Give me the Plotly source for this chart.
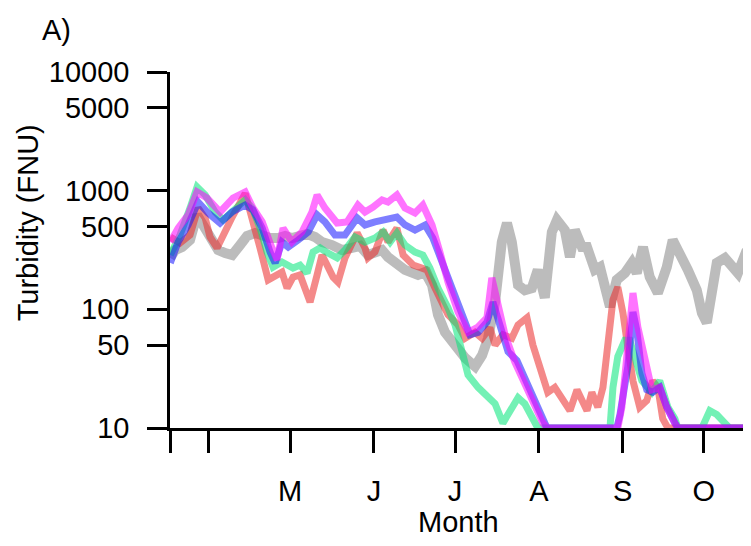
import plotly.graph_objects as go

# Day of year (x) and turbidity in FNU (y) for each series
grey_day = [76.7, 78.5, 81.1, 84.0, 86.6, 88.8, 91.4, 94.4, 97.0, 99.6, 102.5, 105.1, 108.1, 110.7, 113.6,
            116.6, 119.2, 121.7, 124.7, 127.3, 130.2, 132.8, 136.5, 140.2, 143.9, 146.9, 149.8, 155.0,
            157.2, 159.8, 163.5, 168.3, 170.9, 173.5, 175.7, 178.3, 182.0, 185.7, 189.4, 192.0, 194.2,
            196.8, 199.3, 201.2, 203.0, 205.3, 207.8, 210.4, 212.6, 215.2, 217.8, 219.7, 222.6, 224.5,
            226.3, 228.9, 230.8, 233.7, 235.6, 237.4, 239.3, 241.8, 244.8, 247.4, 249.2, 251.5, 254.0,
            257.0, 260.3, 262.5, 265.1, 268.1, 271.4, 273.3, 275.1, 277.0, 278.8, 281.8, 284.3, 286.6, 289.9]
grey_val = [271, 316, 335, 384, 624, 514, 384, 316, 298, 287, 348, 415, 440, 415, 399,
            399, 415, 399, 415, 432, 407, 369, 348, 316, 329, 342, 287, 316,
            276, 246, 215, 195, 206, 160, 90, 64, 50, 39, 33, 41, 57,
            115, 369, 534, 369, 160, 145, 151, 215, 125, 448, 566, 466, 276,
            466, 335, 335, 215, 227, 154, 105, 177, 202, 246, 202, 335, 187,
            137, 227, 384, 298, 215, 145, 93, 77, 154, 246, 271, 227, 202, 316]

red_day = [76.7, 80.3, 84.0, 87.0, 89.6, 91.4, 94.0, 95.9, 99.6, 104.4, 107.3, 109.9, 112.9, 115.5, 118.0,
           119.9, 122.1, 124.7, 126.5, 128.4, 131.0, 132.8, 134.7, 136.9, 138.7, 141.3, 145.8, 148.7,
           149.8, 152.4, 155.4, 157.2, 160.5, 162.8, 166.5, 169.8, 171.6, 174.6, 179.4, 183.1, 185.7,
           189.4, 192.0, 194.9, 196.8, 199.7, 203.0, 205.3, 208.6, 210.8, 214.1, 216.3, 218.9, 220.0,
           222.6, 224.5, 227.1, 228.9, 230.8, 232.6, 234.8, 236.7, 238.5, 240.4, 242.2, 244.1, 245.9,
           247.8, 250.3, 252.9, 255.1, 257.0, 258.8, 260.7, 289.9]
red_val = [407, 362, 423, 714, 589, 407, 329, 407, 600, 950, 566, 329, 177, 195, 206,
           151, 187, 195, 151, 115, 195, 287, 236, 187, 170, 271, 440, 329,
           271, 304, 466, 369, 484, 287, 236, 227, 215, 151, 90, 74, 57,
           64, 57, 70, 50, 61, 57, 74, 85, 50, 28, 20, 22, 20,
           17, 14, 21, 17, 14, 20, 15, 22, 55, 120, 154, 93, 48,
           25, 15, 17, 25, 22, 12, 10, 10]

green_day = [76.7, 80.3, 84.0, 86.6, 89.6, 93.3, 96.2, 99.6, 104.4, 107.0, 109.9, 112.5, 114.7, 118.0,
             120.3, 122.1, 124.7, 127.3, 129.5, 132.1, 135.0, 138.4, 141.3, 145.0, 148.7, 152.4, 155.4,
             158.0, 160.5, 163.5, 167.2, 170.1, 172.7, 175.7, 179.4, 182.0, 184.6, 186.8, 190.5, 193.8,
             196.8, 199.7, 203.0, 205.3, 207.8, 210.4, 212.6, 239.3, 240.4, 242.2, 244.8, 246.6, 251.1,
             254.8, 257.7, 260.7, 263.3, 264.4, 273.3, 276.2, 278.8, 281.8, 283.5, 289.9]
green_val = [287, 423, 714, 1074, 919, 661, 566, 661, 834, 714, 484, 304, 227, 251,
             236, 223, 236, 202, 304, 329, 298, 271, 316, 407, 369, 399, 448,
             369, 440, 348, 304, 287, 223, 151, 103, 74, 44, 28, 22, 19,
             16, 11, 15, 18, 16, 12, 10, 10, 22, 40, 55, 55, 25,
             20, 25, 15, 12, 10, 10, 14, 13, 11, 10, 10]

blue_day = [76.7, 79.6, 83.3, 87.0, 90.7, 95.1, 99.6, 104.4, 107.3, 110.7, 113.6, 115.5, 118.0, 120.3,
            124.0, 127.7, 131.0, 133.9, 137.6, 141.3, 145.8, 148.7, 152.4, 156.1, 160.5, 163.5, 167.2,
            170.9, 173.8, 177.2, 180.9, 184.6, 187.5, 190.5, 193.8, 196.0, 198.6, 201.6, 204.9, 207.8,
            210.8, 214.1, 216.0, 241.8, 243.0, 245.9, 247.8, 249.2, 251.1, 252.9, 255.1, 257.7, 260.3,
            263.3, 264.4, 289.9]
blue_val = [246, 369, 514, 802, 648, 534, 661, 757, 687, 484, 304, 246, 369, 335,
            384, 448, 624, 545, 423, 423, 589, 514, 545, 566, 600, 514, 466,
            514, 399, 251, 151, 90, 61, 64, 78, 115, 70, 44, 37, 26,
            18, 13, 10, 10, 13, 33, 95, 67, 29, 21, 20, 22, 15,
            11, 10, 10]

magenta_day = [76.7, 79.6, 83.3, 86.6, 90.3, 95.1, 99.9, 104.4, 107.3, 110.7, 114.3, 116.2, 118.4, 121.7,
               125.4, 129.1, 131.0, 133.9, 138.4, 142.1, 146.1, 148.7, 151.7, 155.0, 157.2, 160.5, 163.5,
               167.2, 170.1, 173.5, 176.4, 179.4, 183.1, 186.8, 190.5, 193.8, 195.6, 197.9, 200.5, 204.1,
               207.8, 211.5, 214.5, 216.0, 242.2, 243.7, 245.9, 247.8, 249.6, 252.2, 254.8, 257.7, 260.3,
               263.3, 264.4, 289.9]
magenta_val = [369, 484, 624, 975, 867, 661, 867, 975, 714, 545, 329, 261, 484, 369,
               448, 661, 919, 714, 534, 545, 757, 661, 728, 834, 802, 919, 714,
               648, 757, 514, 304, 170, 95, 64, 71, 85, 184, 109, 61, 36,
               24, 15, 11, 10, 10, 15, 45, 137, 71, 37, 21, 22, 15,
               11, 10, 10]

tick_days = [76.7, 91, 121, 152, 182, 213, 244, 274, 289.5]
tick_text = ["", "", "M", "J", "J", "A", "S", "O", ""]
y_ticks = [10, 50, 100, 500, 1000, 5000, 10000]

FONT = "Liberation Sans, Arial, sans-serif"
FS = 29

series = [
    (grey_day, grey_val, "rgba(160,160,160,0.7)", 10),
    (red_day, red_val, "rgba(235,40,40,0.55)", 7),
    (green_day, green_val, "rgba(0,230,120,0.55)", 7),
    (blue_day, blue_val, "rgba(20,20,255,0.55)", 7),
    (magenta_day, magenta_val, "rgba(255,0,255,0.55)", 7),
]

fig = go.Figure()
for xs, ys, col, w in series:
    fig.add_trace(go.Scatter(x=xs, y=ys, mode="lines",
                             line=dict(color=col, width=w, shape="linear"),
                             showlegend=False, hoverinfo="skip"))

# page body has an 8px margin, so the figure is sized to fill the rest of the window
fig.update_layout(
    width=743, height=538,
    margin=dict(l=162, r=5, t=64, b=118),
    paper_bgcolor="white", plot_bgcolor="white",
    font=dict(family=FONT, size=FS, color="black"),
    xaxis=dict(range=[76.6, 289.6], showgrid=False, zeroline=False,
               showline=True, linecolor="black", linewidth=2.5,
               ticks="outside", ticklen=22, tickwidth=2.5, tickcolor="black",
               tickvals=tick_days, ticktext=tick_text, ticklabelstandoff=13,
               tickfont=dict(family=FONT, size=FS)),
    yaxis=dict(type="log", range=[1, 4], showgrid=False, zeroline=False,
               showline=True, linecolor="black", linewidth=2.5,
               ticks="outside", ticklen=20, tickwidth=2.5, tickcolor="black",
               tickvals=y_ticks, ticktext=[str(v) for v in y_ticks],
               ticklabelstandoff=12, tickfont=dict(family=FONT, size=FS)),
    annotations=[
        dict(text="Month", xref="paper", yref="paper", x=0.5, y=-0.264,
             xanchor="center", yanchor="middle", showarrow=False,
             font=dict(family=FONT, size=FS)),
        dict(text="Turbidity (FNU)", xref="paper", yref="paper", x=-0.2465, y=0.575,
             xanchor="center", yanchor="middle", textangle=-90, showarrow=False,
             font=dict(family=FONT, size=FS)),
        dict(text="A)", xref="paper", yref="paper", x=-0.2257, y=1.118,
             xanchor="left", yanchor="middle", showarrow=False,
             font=dict(family=FONT, size=FS)),
    ],
)

fig.write_html("out.html")
